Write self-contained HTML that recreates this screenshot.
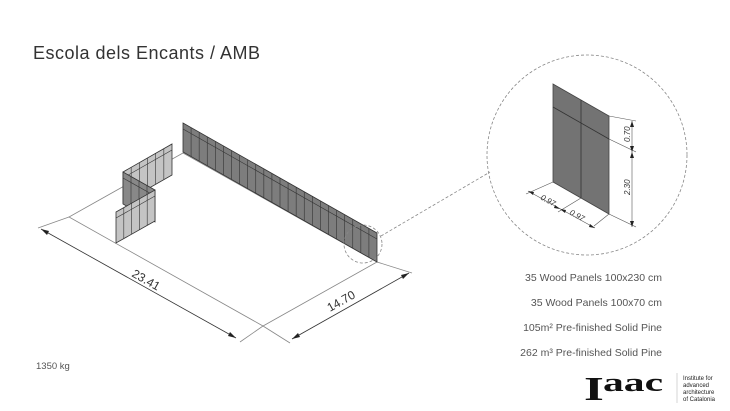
<!DOCTYPE html>
<html><head><meta charset="utf-8"><style>
html,body{margin:0;padding:0;background:#fff;}
body{width:730px;height:411px;overflow:hidden;position:relative;font-family:"Liberation Sans",sans-serif;}
svg{position:absolute;left:0;top:0;}
</style></head><body>
<svg id="s" width="730" height="411" viewBox="0 0 730 411" xmlns="http://www.w3.org/2000/svg">
<text x="33" y="59" font-size="18" fill="#333" font-family="Liberation Sans, sans-serif" textLength="227">Escola dels Encants / AMB</text>
<g stroke="#888" stroke-width="0.8" fill="none">
<polygon points="183,153 377,262 263,326 69,217"/>
<line x1="69" y1="217" x2="38" y2="228"/>
<line x1="263" y1="326" x2="240" y2="342"/>
<line x1="263" y1="326" x2="290" y2="343"/>
<line x1="377" y1="262" x2="412" y2="273"/>
</g>
<g stroke="#333" stroke-width="0.8">
<line x1="41" y1="229" x2="236" y2="338"/>
<line x1="292" y1="339" x2="409" y2="273"/>
</g>
<g fill="#222">
<polygon points="41,229 49,231 47,235"/>
<polygon points="236,338 228,336 230,332"/>
<polygon points="292,339 298,333 300,337"/>
<polygon points="409,273 403,279 401,275"/>
</g>
<text x="0" y="0" font-size="12" fill="#333" transform="translate(131,276) rotate(29.5)">23.41</text>
<text x="0" y="0" font-size="12" fill="#333" transform="translate(330,312) rotate(-29.5)">14.70</text>
<g id="walls"></g>
<circle cx="363" cy="244" r="19" fill="none" stroke="#888" stroke-width="0.8" stroke-dasharray="3,2"/>
<line x1="381" y1="236" x2="490" y2="172" stroke="#888" stroke-width="0.8" stroke-dasharray="3,2"/>
<circle cx="587" cy="155" r="100" fill="none" stroke="#888" stroke-width="0.8" stroke-dasharray="3,2"/>
<polygon points="553,84 609,116 609,214 553,182" fill="#737373" stroke="#444" stroke-width="0.8"/>
<line x1="581" y1="100" x2="581" y2="198" stroke="#333" stroke-width="0.8"/>
<line x1="553" y1="107" x2="609" y2="139" stroke="#333" stroke-width="0.8"/>
<g stroke="#555" stroke-width="0.6">
<line x1="609" y1="116" x2="636" y2="121"/>
<line x1="609" y1="139" x2="636" y2="152"/>
<line x1="609" y1="214" x2="636" y2="227"/>
<line x1="632" y1="121" x2="632" y2="227"/>
<line x1="553" y1="182" x2="526" y2="194"/>
<line x1="581" y1="198" x2="558" y2="212"/>
<line x1="609" y1="214" x2="594" y2="226"/>
<line x1="528" y1="191" x2="595" y2="228"/>
</g>
<g fill="#222">
<polygon points="632,121 630,127 634,127"/><polygon points="632,152 630,146 634,146"/><polygon points="632,152 630,158 634,158"/><polygon points="632,227 630,221 634,221"/>
<polygon points="528,191 534,192 533,195"/><polygon points="560,209 554,208 555,205"/><polygon points="560,209 566,210 565,213"/><polygon points="595,228 589,227 590,224"/>
</g>
<text font-size="8" font-style="italic" fill="#333" transform="translate(630,142) rotate(-90)">0.70</text>
<text font-size="8" font-style="italic" fill="#333" transform="translate(630,195) rotate(-90)">2.30</text>
<text font-size="8" font-style="italic" fill="#333" transform="translate(540,199) rotate(29)">0.97</text>
<text font-size="8" font-style="italic" fill="#333" transform="translate(569,214) rotate(29)">0.97</text>
<g font-size="10.5" fill="#555" text-anchor="end">
<text x="662" y="281">35 Wood Panels 100x230 cm</text>
<text x="662" y="306">35 Wood Panels 100x70 cm</text>
<text x="662" y="331">105m² Pre-finished Solid Pine</text>
<text x="662" y="356">262 m³ Pre-finished Solid Pine</text>
</g>
<text x="36" y="369" font-size="9.5" fill="#555">1350 kg</text>
<text x="0" y="0" font-size="34" font-weight="bold" font-family="Liberation Serif, serif" fill="#111" transform="translate(584,400) scale(1.5,1)">I</text>
<text x="0" y="0" font-size="26" font-weight="bold" font-family="Liberation Serif, serif" fill="#111" transform="translate(603,391) scale(1.6,1)">aac</text>
<line x1="677" y1="373" x2="677" y2="403" stroke="#ccc" stroke-width="0.8"/>
<g font-size="6" fill="#222"><text x="683" y="380">Institute for</text><text x="683" y="387">advanced</text><text x="683" y="394">architecture</text><text x="683" y="401">of Catalonia</text></g>
</svg>
<script>
function wall(x1,y1,x2,y2,h,n,fill,band){
 var g=document.getElementById('walls'),s='';
 s+='<polygon points="'+x1+','+y1+' '+x2+','+y2+' '+x2+','+(y2+h)+' '+x1+','+(y1+h)+'" fill="'+fill+'" stroke="#333" stroke-width="0.8"/>';
 for(var i=1;i<n;i++){var t=i/n,x=x1+(x2-x1)*t,y=y1+(y2-y1)*t;s+='<line x1="'+x+'" y1="'+y+'" x2="'+x+'" y2="'+(y+h)+'" stroke="#333" stroke-width="0.6"/>';}
 s+='<line x1="'+x1+'" y1="'+(y1+band)+'" x2="'+x2+'" y2="'+(y2+band)+'" stroke="#333" stroke-width="0.6"/>';
 g.innerHTML+=s;
}
wall(183,123,377,233,29,24,'#7d7d7d',6);
wall(123,172,172,144,31,6,'#c4c4c4',6);
wall(123,172,155,190,32,4,'#888',6);
wall(116,212,155,190,31,5,'#c4c4c4',6);
</script>
</body></html>
